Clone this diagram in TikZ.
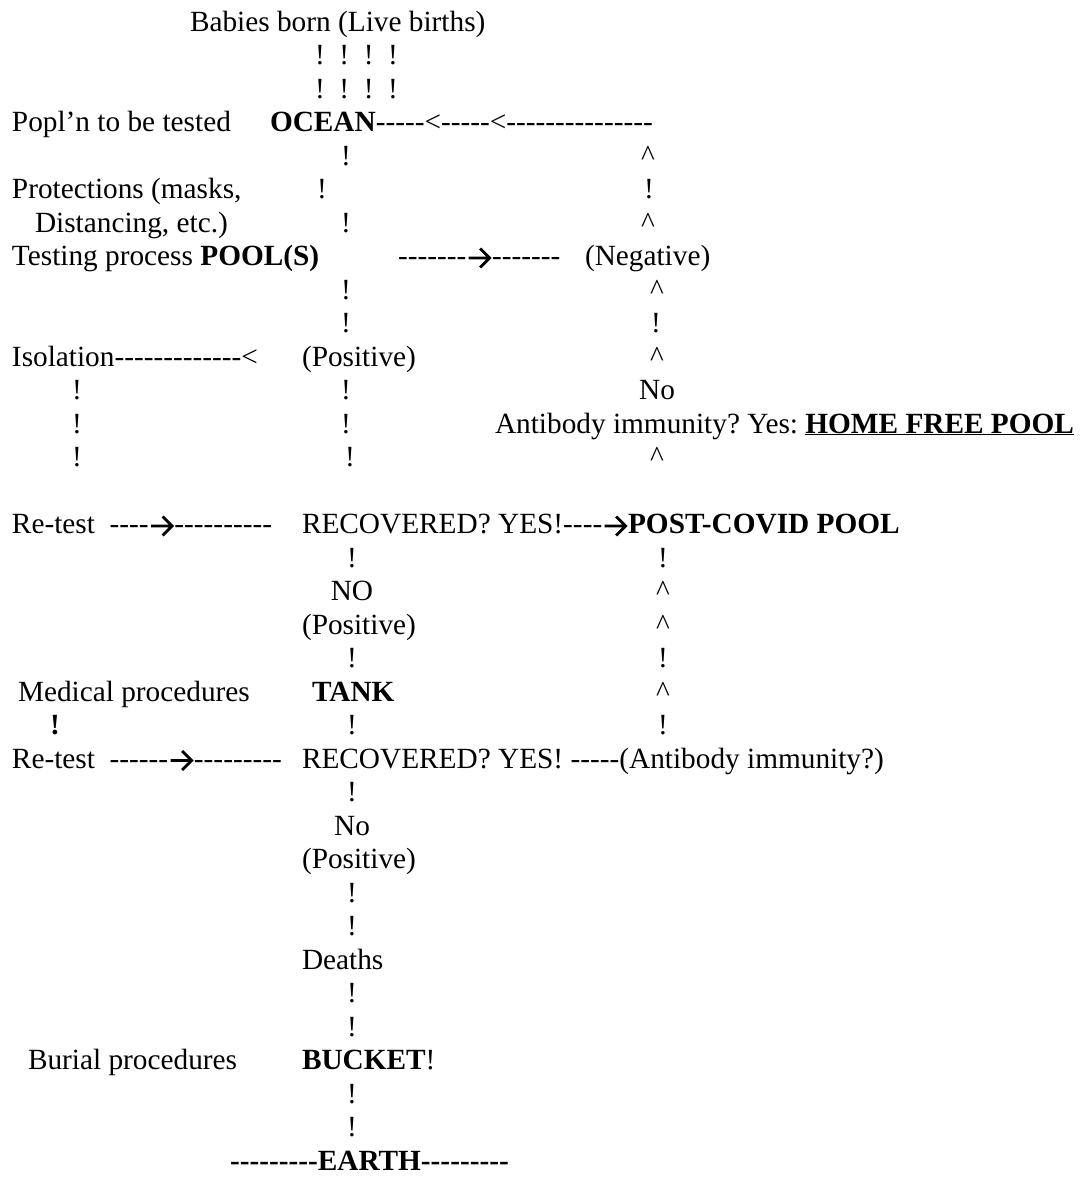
\documentclass[tikz,border=0pt]{standalone}
\usepackage{fontspec}
\setmainfont{Liberation Serif}[Ligatures=TeXOff]
\newcommand{\fsz}{\fontsize{29.3}{33.5}\selectfont\frenchspacing}
\newcommand{\rarr}{\kern1pt\tikz[baseline=0pt,x=1pt,y=1pt]{\draw[line width=2.8pt,line join=miter] (0,7.5)--(21,7.5) (11.5,-2)--(21,7.5)--(11.5,17);}\kern1pt}
\begin{document}
\begin{tikzpicture}[x=1pt,y=-1pt,
  t/.style={inner sep=0pt,outer sep=0pt,font=\fsz},
  lw/.style={t,anchor=base west},
  cc/.style={t,anchor=base}]
\useasboundingbox (0,0) rectangle (1080,1178);
\fill[white] (0,0) rectangle (1080,1178);
% row 0-2
\node[lw] (babies) at (190,{31+33.5*0}) {Babies born (Live births)};
\node[lw] (ex1) at (315,{31+33.5*1}) {!\ \ !\ \ !\ \ !};
\node[lw] (ex2) at (315,{31+33.5*2}) {!\ \ !\ \ !\ \ !};
% row 3
\node[lw] (popl) at (12,{31+33.5*3}) {Popl’n to be tested};
\node[lw] (ocean) at (270,{31+33.5*3}) {\textbf{OCEAN}-----<-----<---------------};
% row 4
\node[cc] (r4a) at (346,{31+33.5*4}) {!};
\node[cc] (r4b) at (648,{31+33.5*4}) {\^{}};
% row 5
\node[lw] (prot) at (12,{31+33.5*5}) {Protections (masks,};
\node[cc] (r5a) at (322,{31+33.5*5}) {!};
\node[cc] (r5b) at (649,{31+33.5*5}) {!};
% row 6
\node[lw] (dist) at (35,{31+33.5*6}) {Distancing, etc.)};
\node[cc] (r6a) at (346,{31+33.5*6}) {!};
\node[cc] (r6b) at (648,{31+33.5*6}) {\^{}};
% row 7
\node[lw] (testing) at (12,{31+33.5*7}) {Testing process \textbf{POOL(S)}};
\node[lw] (arr7) at (398,{31+33.5*7}) {-------\rarr-------};
\node[lw] (neg) at (585,{31+33.5*7}) {(Negative)};
% row 8-9
\node[cc] (r8a) at (346,{31+33.5*8}) {!};
\node[cc] (r8b) at (657,{31+33.5*8}) {\^{}};
\node[cc] (r9a) at (346,{31+33.5*9}) {!};
\node[cc] (r9b) at (656,{31+33.5*9}) {!};
% row 10
\node[lw] (iso) at (12,{31+33.5*10}) {Isolation-------------<};
\node[lw] (pos1) at (302,{31+33.5*10}) {(Positive)};
\node[cc] (r10b) at (657,{31+33.5*10}) {\^{}};
% row 11
\node[cc] (r11a) at (77,{31+33.5*11}) {!};
\node[cc] (r11b) at (346,{31+33.5*11}) {!};
\node[cc] (no1) at (657,{31+33.5*11}) {No};
% row 12
\node[cc] (r12a) at (77,{31+33.5*12}) {!};
\node[cc] (r12b) at (346,{31+33.5*12}) {!};
\node[lw] (antib) at (495,{31+33.5*12}) {Antibody immunity? Yes: \underline{\textbf{HOME FREE POOL}}};
% row 13
\node[cc] (r13a) at (77,{31+33.5*13}) {!};
\node[cc] (r13b) at (350,{31+33.5*13}) {!};
\node[cc] (r13c) at (657,{31+33.5*13}) {\^{}};
% row 15
\node[lw] (retest1) at (12,{31+33.5*15}) {Re-test\ \ ----\rarr----------};
\node[lw] (rec1) at (302,{31+33.5*15}) {RECOVERED? YES!----\rarr\textbf{POST-COVID POOL}};
% row 16-21
\node[cc] (r16a) at (352,{31+33.5*16}) {!};
\node[cc] (r16b) at (663,{31+33.5*16}) {!};
\node[cc] (no2) at (352,{31+33.5*17}) {NO};
\node[cc] (r17b) at (663,{31+33.5*17}) {\^{}};
\node[lw] (pos2) at (302,{31+33.5*18}) {(Positive)};
\node[cc] (r18b) at (663,{31+33.5*18}) {\^{}};
\node[cc] (r19a) at (352,{31+33.5*19}) {!};
\node[cc] (r19b) at (663,{31+33.5*19}) {!};
\node[lw] (med) at (18,{31+33.5*20}) {Medical procedures};
\node[lw] (tank) at (312,{31+33.5*20}) {\textbf{TANK}};
\node[cc] (r20b) at (663,{31+33.5*20}) {\^{}};
\node[cc] (r21a) at (55,{31+33.5*21}) {\textbf{!}};
\node[cc] (r21b) at (352,{31+33.5*21}) {!};
\node[cc] (r21c) at (663,{31+33.5*21}) {!};
% row 22
\node[lw] (retest2) at (12,{31+33.5*22}) {Re-test\ \ ------\rarr---------};
\node[lw] (rec2) at (302,{31+33.5*22}) {RECOVERED? YES! -----(Antibody immunity?)};
% row 23-33
\node[cc] (r23) at (352,{31+33.5*23}) {!};
\node[cc] (no3) at (352,{31+33.5*24}) {No};
\node[lw] (pos3) at (302,{31+33.5*25}) {(Positive)};
\node[cc] (r26) at (352,{31+33.5*26}) {!};
\node[cc] (r27) at (352,{31+33.5*27}) {!};
\node[lw] (deaths) at (302,{31+33.5*28}) {Deaths};
\node[cc] (r29) at (352,{31+33.5*29}) {!};
\node[cc] (r30) at (352,{31+33.5*30}) {!};
\node[lw] (burial) at (28,{31+33.5*31}) {Burial procedures};
\node[lw] (bucket) at (302,{31+33.5*31}) {\textbf{BUCKET}!};
\node[cc] (r32) at (352,{31+33.5*32}) {!};
\node[cc] (r33) at (352,{31+33.5*33}) {!};
\node[lw] (earth) at (230,{31+33.5*34}) {\textbf{---------EARTH---------}};
\end{tikzpicture}
\end{document}
